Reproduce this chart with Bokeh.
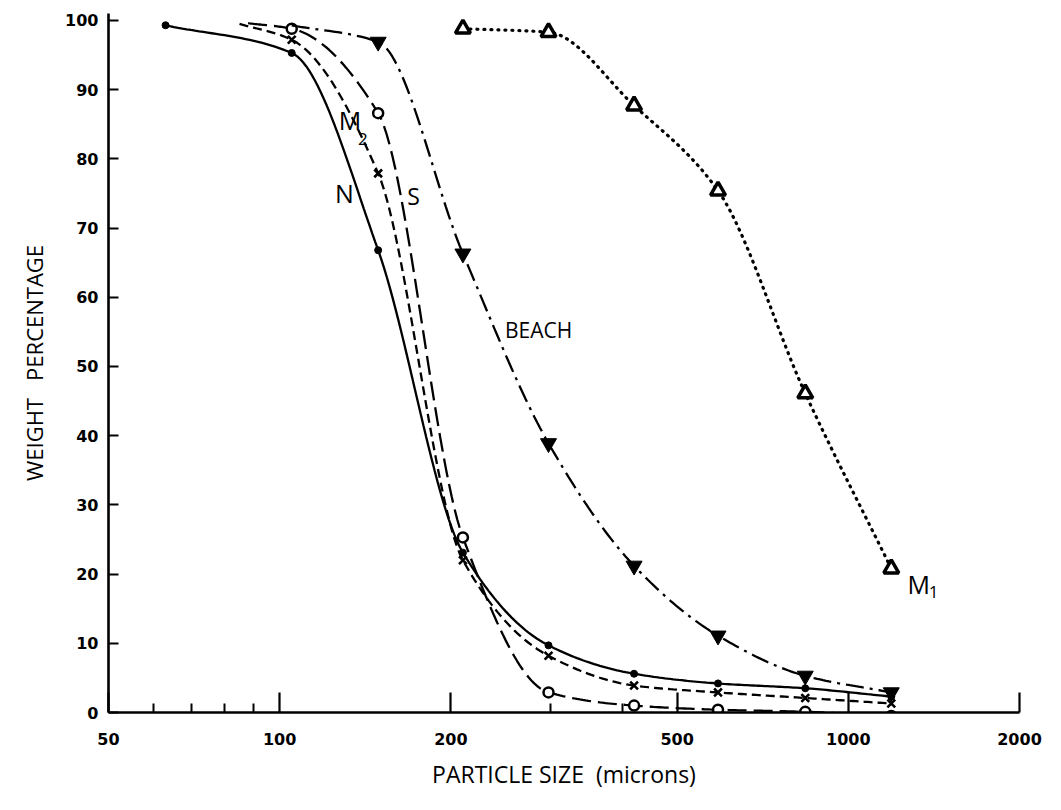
import numpy as np
from bokeh.plotting import figure
from bokeh.models import Range1d, FixedTicker
from bokeh.core.properties import value
from bokeh.embed import file_html
from bokeh.resources import INLINE

# ---- data (particle size in microns, weight %) ----
n_size = [63, 105, 149, 210, 297, 420, 590, 840, 1190]
n_pct = [99.3, 95.3, 66.8, 23.1, 9.7, 5.6, 4.2, 3.5, 2.3]

m2_size = [85, 105, 149, 210, 297, 420, 590, 840, 1190]
m2_pct = [99.5, 97.2, 77.9, 22.0, 8.2, 3.9, 2.9, 2.1, 1.3]

s_size = [88, 105, 149, 210, 297, 420, 590, 840, 1190]
s_pct = [99.6, 98.8, 86.6, 25.3, 2.9, 1.0, 0.4, 0.1, -0.5]

beach_size = [105, 149, 210, 297, 420, 590, 840, 1190]
beach_pct = [99.3, 96.9, 66.3, 38.9, 21.2, 11.1, 5.3, 2.9]

m1_size = [210, 297, 420, 590, 840, 1190]
m1_pct = [98.8, 98.3, 87.7, 75.4, 46.1, 20.8]

x_ticks = [50, 100, 200, 500, 1000, 2000]
x_minor = [60, 70, 80, 90, 300, 400]
y_ticks = [0, 10, 20, 30, 40, 50, 60, 70, 80, 90, 100]


def smooth(xs, ys, n=30):
    """Monotone (PCHIP) curve through the points in log-x space (drawing only)."""
    lx = np.log10(np.asarray(xs, float))
    y = np.asarray(ys, float)
    h = np.diff(lx)
    d = np.diff(y) / h
    m = np.zeros_like(y)
    m[0], m[-1] = d[0], d[-1]
    for i in range(1, len(y) - 1):
        if d[i - 1] * d[i] <= 0:
            m[i] = 0.0
        else:
            w1 = 2 * h[i] + h[i - 1]
            w2 = h[i] + 2 * h[i - 1]
            m[i] = (w1 + w2) / (w1 / d[i - 1] + w2 / d[i])
    ox, oy = [], []
    for i in range(len(h)):
        t = np.linspace(0, 1, n, endpoint=(i == len(h) - 1))
        h00 = 2 * t**3 - 3 * t**2 + 1
        h10 = t**3 - 2 * t**2 + t
        h01 = -2 * t**3 + 3 * t**2
        h11 = t**3 - t**2
        yy = h00 * y[i] + h10 * h[i] * m[i] + h01 * y[i + 1] + h11 * h[i] * m[i + 1]
        xx = lx[i] + t * h[i]
        ox.extend(10 ** xx)
        oy.extend(yy)
    return ox, oy


p = figure(width=1045, height=794, x_axis_type="log",
           x_range=Range1d(50, 2000), y_range=Range1d(0, 101),
           output_backend="svg", toolbar_location=None,
           min_border_left=108, min_border_right=26,
           min_border_top=13, min_border_bottom=82)
p.outline_line_color = None
p.xgrid.visible = False
p.ygrid.visible = False
p.background_fill_color = "white"
p.border_fill_color = "white"

# axes
p.xaxis.ticker = FixedTicker(ticks=x_ticks, minor_ticks=x_minor)
p.xaxis.major_label_overrides = {t: str(t) for t in x_ticks}
p.yaxis.ticker = FixedTicker(ticks=y_ticks)
for ax in (p.xaxis[0], p.yaxis[0]):
    ax.axis_line_width = 2.6
    ax.axis_line_color = "black"
    ax.major_tick_line_width = 2.2
    ax.minor_tick_line_width = 2.0
    ax.major_tick_line_color = "black"
    ax.minor_tick_line_color = "black"
    ax.major_tick_out = 0
    ax.minor_tick_out = 0
    ax.major_label_text_font = "DejaVu Sans"
    ax.major_label_text_font_style = "bold"
    ax.major_label_text_font_size = "16px"
    ax.major_label_text_color = "black"
    ax.axis_label_text_font = "Open Sans"
    ax.axis_label_text_font_style = "normal"
    ax.axis_label_text_color = "black"
p.xaxis.major_tick_in = 20
p.xaxis.minor_tick_in = 9
p.xaxis.major_label_standoff = 20
p.xaxis.axis_label = "PARTICLE SIZE \u00a0(microns)"
p.xaxis.axis_label_text_font_size = "23px"
p.xaxis.axis_label_standoff = 10
p.yaxis.major_tick_in = 10
p.yaxis.minor_tick_line_color = None
p.yaxis.major_label_standoff = 10
p.yaxis.axis_label = "WEIGHT \u00a0 PERCENTAGE"
p.yaxis.axis_label_text_font_size = "22px"
p.yaxis.axis_label_standoff = 13

LW = 2.3

# N : solid, small dots
x, y = smooth(n_size, n_pct)
p.line(x, y, line_color="black", line_width=LW)
p.scatter(n_size, n_pct, marker="circle", size=7, color="black")

# M2 : short dashes, x markers
x, y = smooth(m2_size, m2_pct)
p.line(x, y, line_color="black", line_width=LW, line_dash="9 5")
p.scatter(m2_size[1:], m2_pct[1:], marker="x", size=11, line_color="black", line_width=2.6)

# S : long dashes, open circles
x, y = smooth(s_size, s_pct)
p.line(x, y, line_color="black", line_width=LW, line_dash="19 7")
p.scatter(s_size[1:], s_pct[1:], marker="circle", size=10, line_color="black",
          line_width=2.5, fill_color="white")

# BEACH : dash-dot, filled inverted triangles
x, y = smooth(beach_size, beach_pct)
p.line(x, y, line_color="black", line_width=LW, line_dash="18 6 3 6")
p.scatter(beach_size[1:], beach_pct[1:], marker="inverted_triangle", size=16,
          color="black")

# M1 : dotted, open triangles
x, y = smooth(m1_size, m1_pct)
p.line(x, y, line_color="black", line_width=3.2, line_dash="1 6", line_cap="round")
p.scatter(m1_size, m1_pct, marker="triangle", size=15, line_color="black",
          line_width=3.5, fill_color="white")

# curve labels
big = dict(text_font=value("Open Sans"), text_color="black",
           text_align="center", text_baseline="middle")
p.text(x=[130], y=[75.0], text=["N"], text_font_size="25px", **big)
p.text(x=[133], y=[85.6], text=["M"], text_font_size="25px", **big)
p.text(x=[140], y=[82.9], text=["2"], text_font_size="17px", **big)
p.text(x=[172], y=[74.7], text=["S"], text_font_size="23px", **big)
p.text(x=[249], y=[55.2], text=["BEACH"], text_font_size="21px",
       text_font=value("Open Sans"), text_color="black",
       text_align="left", text_baseline="middle")
p.text(x=[1330], y=[18.6], text=["M"], text_font_size="25px", **big)
p.text(x=[1412], y=[17.4], text=["1"], text_font_size="17px", **big)

open("out.html", "w").write(file_html(p, INLINE))
